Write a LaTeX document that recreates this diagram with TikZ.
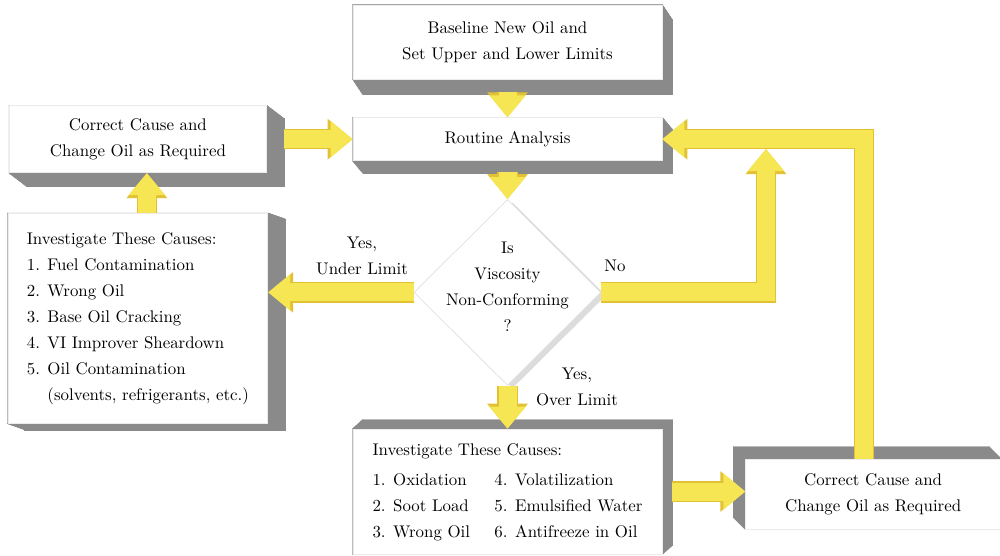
\documentclass[tikz,border=0pt]{standalone}
\usepackage{fontspec}
\usepackage{xcolor}
\usepackage{tikz}
\usetikzlibrary{positioning}
\usetikzlibrary{arrows.meta}
\usetikzlibrary{shapes.geometric}
\usetikzlibrary{shadows}
\usetikzlibrary{backgrounds}

\definecolor{oilyellow}{RGB}{247,230,84}
\definecolor{oilgold}{RGB}{226,194,50}
\definecolor{slabgray}{RGB}{138,138,138}

% grey depth of a box: node, dx, dy
\newcommand{\boxslab}[3]{%
  \path[slab] ([shift={(#2,#3)}]#1.north west) rectangle ([shift={(#2,#3)}]#1.south east);
  \path[slab] (#1.north west) -- (#1.north east) -- ([shift={(#2,#3)}]#1.north east) -- ([shift={(#2,#3)}]#1.north west) -- cycle;
  \path[slab] (#1.south west) -- (#1.south east) -- ([shift={(#2,#3)}]#1.south east) -- ([shift={(#2,#3)}]#1.south west) -- cycle;
  \path[slab] (#1.north west) -- (#1.south west) -- ([shift={(#2,#3)}]#1.south west) -- ([shift={(#2,#3)}]#1.north west) -- cycle;
  \path[slab] (#1.north east) -- (#1.south east) -- ([shift={(#2,#3)}]#1.south east) -- ([shift={(#2,#3)}]#1.north east) -- cycle;
}

\begin{document}
\begin{tikzpicture}[x=0.02cm, y=-0.02cm, font=\fontsize{9.6}{14.8}\selectfont,
    box/.style={rectangle, fill=white, draw=black!8, align=center, inner sep=0pt},
    decision/.style={diamond, fill=white, draw=black!12, minimum width=3.74cm, minimum height=3.72cm, inner sep=0pt,
        drop shadow={shadow xshift=0.1cm, shadow yshift=-0.06cm, fill=black!30, opacity=0.45}},
    slab/.style={fill=slabgray, draw=slabgray, line width=0.2pt},
    yarrow/.style={draw=oilyellow, line width=0.36cm, -{Triangle[width=0.7cm,length=0.44cm]},
        preaction={draw=oilgold, line width=0.41cm, -{Triangle[width=0.78cm,length=0.5cm]}}}]
        \useasboundingbox (0,0) rectangle (1000,555);
        % nodes (main column)
        \node[box, minimum width=6.18cm, minimum height=1.48cm] (B) at (507.5,42) {Baseline New Oil and\\Set Upper and Lower Limits};
        \node[box, below=0.76cm of B, minimum width=6.18cm, minimum height=0.86cm] (R) {Routine Analysis};
        \node[decision, below=0.76cm of R] (D) {};
        \node[align=center, yshift=0.12cm] (Dtext) at (D) {Is\\Viscosity\\Non-Conforming\\?};
        \node[box, below=0.86cm of D, minimum width=6.18cm, minimum height=2.5cm] (I2) {\begin{tabular}{@{}p{2.44cm}@{}l@{}}
            \multicolumn{2}{@{}l@{}}{Investigate These Causes:}\\[2pt]
            1. Oxidation & 4. Volatilization\\
            2. Soot Load & 5. Emulsified Water\\
            3. Wrong Oil & 6. Antifreeze in Oil
            \end{tabular}};
        % nodes (side boxes)
        \node[box, left=1.72cm of R, minimum width=5.14cm, minimum height=1.34cm] (C1) {Correct Cause and\\Change Oil as Required};
        \node[box, below=0.8cm of C1, align=left, minimum width=5.2cm, minimum height=4.2cm] (I1) {Investigate These Causes:\\1. Fuel Contamination\\2. Wrong Oil\\3. Base Oil Cracking\\4. VI Improver Sheardown\\5. Oil Contamination\\\phantom{5. }(solvents, refrigerants, etc.)};
        \node[box, right=1.66cm of I2, yshift=-0.05cm, minimum width=5.1cm, minimum height=1.4cm] (C2) {Correct Cause and\\Change Oil as Required};
        % labels
        \node[align=center] (under) at (362,256) {Yes,\\Under Limit};
        \node (no) at (615,266) {No};
        \node[align=center] (over) at (577,387) {Yes,\\Over Limit};
        \coordinate (nojoin) at (766,149);

        % depth of the boxes
        \begin{scope}[on background layer]
            \boxslab{B}{10}{15}
            \boxslab{R}{10}{12}
            \boxslab{C1}{17}{13}
            \boxslab{I1}{17}{6}
            \boxslab{I2}{10}{-9}
            \boxslab{C2}{-12}{-12}
        \end{scope}

        % edges
        \draw[yarrow, shorten <=0.26cm] (B) -- (R);
        \draw[yarrow, shorten <=0.22cm] (R) -- (D);
        \draw[yarrow, shorten <=0.34cm] (C1) -- (R);
        \draw[yarrow] ([xshift=0.18cm]I1.north) -- ([xshift=0.18cm]C1.south);
        \draw[yarrow] (D.west) -- (D.west -| I1.east);
        \draw[yarrow] (D.east) -| (nojoin);
        \draw[yarrow] ([xshift=-0.18cm]C2.north) |- (R.east);
        \draw[yarrow] (D) -- (I2);
        \draw[yarrow, shorten <=0.2cm] (I2.east) -- (I2.east -| C2.west);
    \end{tikzpicture}
\end{document}
